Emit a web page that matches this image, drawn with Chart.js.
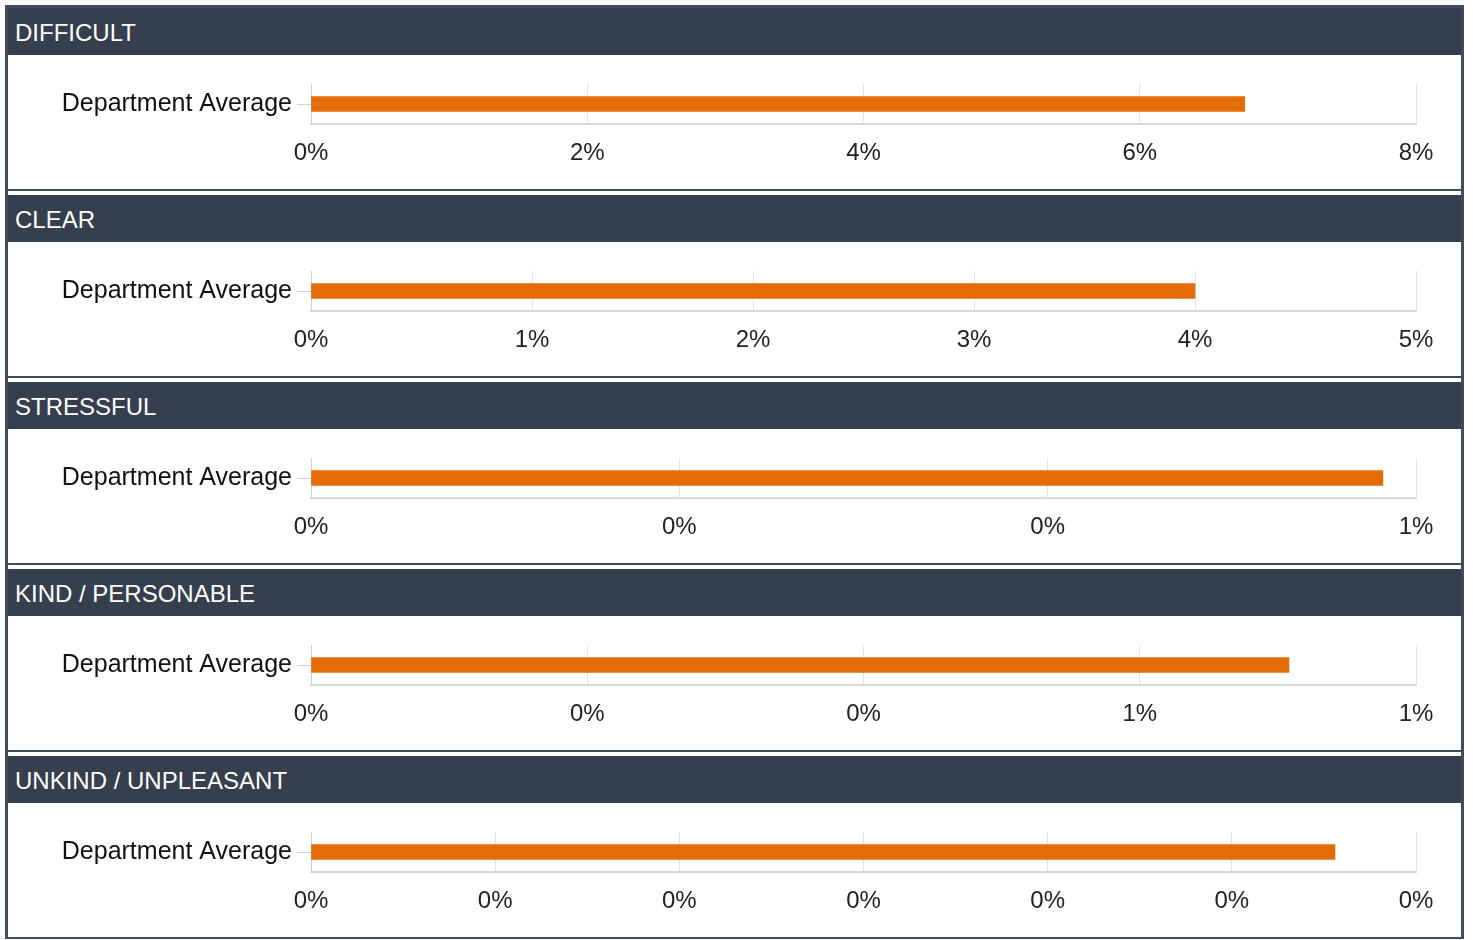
<!DOCTYPE html>
<html>
<head>
<meta charset="utf-8">
<script src="https://cdn.jsdelivr.net/npm/chart.js@4"></script>
<style>
  body { margin: 0; background: #fff; font-family: "Liberation Sans", Arial, sans-serif; }
  #wrap {
    position: absolute; left: 5px; top: 5px; width: 1453px;
    border: 3px solid #3f4c5e; border-bottom: none; background: #fff;
  }
  .panel { border-bottom: 2px solid #3f4c5e; margin-bottom: 4px; }
  .panel:last-child { margin-bottom: 0; }
  .head {
    height: 47px; line-height: 50px; background: #353f4d; color: #fff;
    font-size: 24px; padding-left: 7px; box-sizing: border-box;
  }
  .body { height: 134px; }
  canvas { display: block; }
</style>
</head>
<body>
<div id="wrap"></div>
<script>
// categorias / valores (em %)
const categories = ["DIFFICULT", "CLEAR", "STRESSFUL", "KIND / PERSONABLE", "UNKIND / UNPLEASANT"];
const seriesLabel = "Department Average";
const departmentAverage = [6.76, 4.0, 0.582, 0.708, 0.278];
const axisMax = [8, 5, 0.6, 0.8, 0.3];
const tickLabels = [
  ["0%", "2%", "4%", "6%", "8%"],
  ["0%", "1%", "2%", "3%", "4%", "5%"],
  ["0%", "0%", "0%", "1%"],
  ["0%", "0%", "0%", "1%", "1%"],
  ["0%", "0%", "0%", "0%", "0%", "0%", "0%"]
];

const FONT = "'Liberation Sans', Arial, sans-serif";
const wrap = document.getElementById("wrap");

categories.forEach((cat, p) => {
  const panel = document.createElement("div");
  panel.className = "panel";
  panel.innerHTML = '<div class="head"></div><div class="body"><canvas width="1453" height="134"></canvas></div>';
  panel.querySelector(".head").textContent = cat;
  wrap.appendChild(panel);
  const ctx = panel.querySelector("canvas").getContext("2d");

  new Chart(ctx, {
    type: "bar",
    data: {
      labels: [seriesLabel],
      datasets: [{
        data: [departmentAverage[p]],
        backgroundColor: "#e36c09",
        barThickness: 15,
      }],
    },
    options: {
      indexAxis: "y",
      responsive: false,
      devicePixelRatio: 1,
      animation: false,
      layout: { padding: { top: 29, right: 45, bottom: 0, left: 0 } },
      plugins: { legend: { display: false }, tooltip: { enabled: false } },
      scales: {
        x: {
          min: 0,
          max: axisMax[p],
          ticks: {
            count: tickLabels[p].length,
            padding: 15,
            color: "#222",
            font: { family: FONT, size: 24 },
            maxRotation: 0,
            callback: (v, i) => tickLabels[p][i],
          },
          grid: { color: "#e4e4e4", drawTicks: false },
          border: { color: "#dadada", width: 2 },
          afterFit: (s) => { s.height = 65; },
        },
        y: {
          ticks: {
            padding: 5,
            color: "#111",
            font: { family: FONT, size: 25 },
          },
          grid: { drawOnChartArea: false, offset: false, tickLength: 14, color: "#cfcfcf" },
          border: { color: "#cfcfcf" },
          afterFit: (s) => { s.width = 303; },
        },
      },
    },
  });
});
</script>
</body>
</html>
